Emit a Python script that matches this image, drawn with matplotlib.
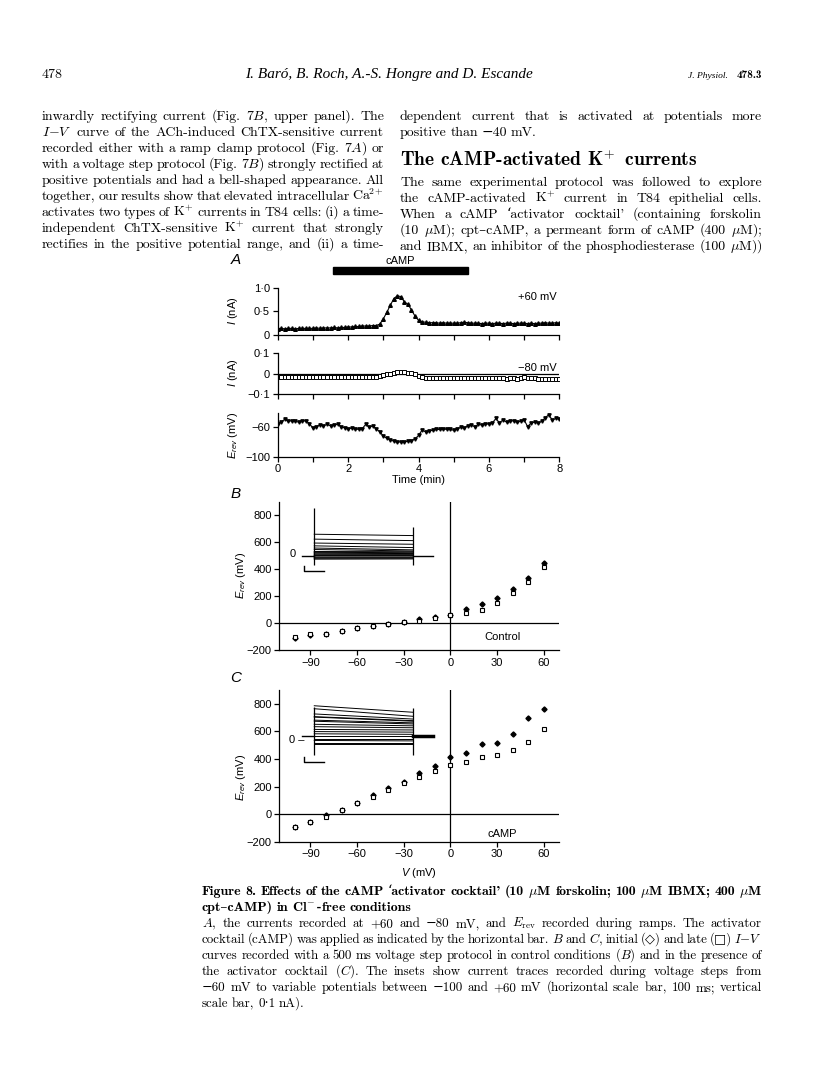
import matplotlib
matplotlib.use('Agg')
import matplotlib.pyplot as plt
import numpy as np
from matplotlib.patches import Rectangle
from matplotlib.transforms import blended_transform_factory

W, H = 816, 1088

# ---------------- data ----------------
# Panel A: sampled every 0.1 min from 0 to 8 min
time_min = np.round(np.arange(81) * 0.1, 1)
I_plus60 = [0.13, 0.14, 0.13, 0.14, 0.14, 0.13, 0.14, 0.14, 0.14, 0.14,
            0.14, 0.15, 0.14, 0.15, 0.15, 0.15, 0.16, 0.15, 0.16, 0.16,
            0.17, 0.17, 0.18, 0.18, 0.19, 0.19, 0.19, 0.20, 0.20, 0.23,
            0.34, 0.48, 0.63, 0.77, 0.83, 0.81, 0.70, 0.65, 0.53, 0.40,
            0.31, 0.28, 0.27, 0.26, 0.26, 0.26, 0.25, 0.26, 0.25, 0.25,
            0.25, 0.25, 0.26, 0.27, 0.26, 0.25, 0.25, 0.25, 0.24, 0.25,
            0.25, 0.24, 0.25, 0.25, 0.24, 0.25, 0.25, 0.24, 0.25, 0.25,
            0.25, 0.24, 0.25, 0.24, 0.25, 0.25, 0.26, 0.25, 0.25, 0.26,
            0.25]
I_minus80 = [-0.017, -0.018, -0.017, -0.016, -0.017, -0.018, -0.017, -0.017, -0.018, -0.017,
             -0.017, -0.018, -0.017, -0.017, -0.016, -0.017, -0.017, -0.018, -0.017, -0.017,
             -0.017, -0.017, -0.018, -0.017, -0.016, -0.017, -0.017, -0.016, -0.015, -0.012,
             -0.008, -0.004, 0.000, 0.004, 0.006, 0.007, 0.006, 0.004, 0.001, -0.004,
             -0.010, -0.015, -0.020, -0.023, -0.021, -0.019, -0.021, -0.020, -0.019, -0.021,
             -0.020, -0.019, -0.021, -0.020, -0.019, -0.021, -0.020, -0.022, -0.021, -0.020,
             -0.021, -0.023, -0.022, -0.021, -0.023, -0.024, -0.022, -0.023, -0.025, -0.023,
             -0.018, -0.019, -0.021, -0.023, -0.025, -0.024, -0.026, -0.025, -0.027, -0.026,
             -0.026]
E_rev = [-55, -53, -49, -52, -51, -52, -53, -52, -51, -55,
         -61, -59, -57, -58, -56, -58, -57, -56, -59, -61,
         -62, -61, -62, -63, -62, -56, -60, -58, -62, -66,
         -72, -75, -77, -79, -80, -80, -80, -79, -78, -76,
         -71, -64, -66, -65, -64, -63, -63, -62, -63, -63,
         -64, -62, -60, -61, -58, -57, -59, -56, -57, -55,
         -56, -54, -48, -54, -50, -53, -52, -51, -53, -52,
         -50, -59, -54, -53, -54, -52, -47, -43, -50, -48,
         -49]
camp_bar = [1.58, 5.41]   # min

# Panels B and C: I-V relations (values in pA, axis labelled as in original)
V_step = np.array([-100, -90, -80, -70, -60, -50, -40, -30, -20, -10, 0, 10, 20, 30, 40, 50, 60])
B_initial = np.array([-108, -87, -79, -62, -37, -25, -10, 10, 30, 45, 62, 106, 139, 188, 250, 337, 446])
B_late = np.array([-103, -85, -78, -61, -36, -24, -9, 9, 15, 35, 57, 74, 99, 149, 223, 304, 416])
C_initial = np.array([-92, -56, -10, 29, 78, 138, 187, 235, 296, 349, 417, 441, 509, 519, 579, 695, 761])
C_late = np.array([-92, -56, -20, 29, 78, 126, 175, 223, 272, 315, 356, 381, 417, 429, 465, 526, 616])

# insets: capacitive transient extents (nA) at step on / step off
B_spike_on, B_spike_off = (-0.24, 1.02), (-0.24, 0.61)
C_spike_on, C_spike_off = (-0.33, 0.74), (-0.33, 0.70)

# ---------------- figure ----------------
plt.rcParams.update({
    'mathtext.fontset': 'custom',
    'mathtext.rm': 'Liberation Sans',
    'mathtext.it': 'Liberation Sans:italic',
    'mathtext.bf': 'Liberation Sans:bold',
})
SANS = ['Liberation Sans', 'DejaVu Sans']
SERIF = ['cmr10', 'DejaVu Serif', 'DejaVu Sans']
BSERIF = ['cmb10', 'DejaVu Serif', 'DejaVu Sans']

fig = plt.figure(figsize=(W / 100, H / 100), dpi=100)
fig.patch.set_facecolor('white')
renderer = fig.canvas.get_renderer()


def axbox(l, t, r, b):
    return fig.add_axes([l / W, 1 - b / H, (r - l) / W, (b - t) / H])


def ftext(x, y, s, **kw):
    return fig.text(x / W, 1 - y / H, s, **kw)


def style(ax):
    for s in ('top', 'right'):
        ax.spines[s].set_visible(False)
    for s in ('left', 'bottom'):
        ax.spines[s].set_linewidth(0.9)
    ax.tick_params(direction='out', length=3.5, width=0.9, labelsize=8, pad=2)
    for lab in ax.get_xticklabels() + ax.get_yticklabels():
        lab.set_family(SANS)
    ax.patch.set_alpha(0)


# ---- Panel A ----
A1 = axbox(277.7, 287.7, 559.3, 335)
A2 = axbox(277.7, 353.3, 559.3, 394)
A3 = axbox(277.7, 413.3, 559.3, 456.7)
for ax in (A1, A2, A3):
    ax.set_xlim(0, 8)
    ax.set_xticks(range(9))
    ax.set_xticklabels([])
A3.set_xticklabels(['0', '', '2', '', '4', '', '6', '', '8'])

A1.plot(time_min, I_plus60, '-', color='k', lw=0.8, marker='^', ms=2.6)
A1.set_ylim(0, 1.0)
A1.set_yticks([0, 0.5, 1.0], ['0', '0·5', '1·0'])

A2.axhline(0, color='k', lw=0.9)
A2.plot(time_min, I_minus80, '-', color='k', lw=0.8, marker='s', ms=2.4, mfc='white', mew=0.7)
A2.set_ylim(-0.1, 0.1)
A2.set_yticks([-0.1, 0, 0.1], ['−0·1', '0', '0·1'])

A3.plot(time_min, E_rev, '-', color='k', lw=0.8, marker='v', ms=2.4)
A3.set_ylim(-100, -41)
A3.set_yticks([-100, -60], ['−100', '−60'])
for ax in (A1, A2, A3):
    style(ax)

A1.text(7.93, 0.81, '+60 mV', ha='right', va='center', fontsize=8, family=SANS)
A2.text(7.93, 0.028, '−80 mV', ha='right', va='center', fontsize=8, family=SANS)

tr = blended_transform_factory(A1.transData, fig.transFigure)
A1.add_patch(Rectangle((camp_bar[0], 1 - 274 / H), camp_bar[1] - camp_bar[0], 7.5 / H,
                       transform=tr, color='k', clip_on=False))
A1.text(np.mean(camp_bar), 1 - 261 / H, 'cAMP', transform=tr, ha='center', va='center',
        fontsize=8, family=SANS)

ftext(236, 260, 'A', fontsize=11, family=SANS, style='italic', ha='center', va='center')
ftext(233, 311, r'$I$ (nA)', fontsize=8, family=SANS, rotation=90, ha='center', va='center')
ftext(233, 373, r'$I$ (nA)', fontsize=8, family=SANS, rotation=90, ha='center', va='center')
ftext(233, 435, r'$E_{rev}$ (mV)', fontsize=8, family=SANS, rotation=90, ha='center', va='center')
ftext(419, 480, 'Time (min)', fontsize=8, family=SANS, ha='center', va='center')

# ---- Panels B & C ----
def iv_panel(box, initial, late, label, label_y):
    ax = axbox(*box)
    ax.axhline(0, color='k', lw=0.9)
    ax.axvline(0, color='k', lw=0.9)
    ax.plot(V_step, initial, linestyle='none', marker='D', ms=2.6, color='k')
    ax.plot(V_step, late, linestyle='none', marker='s', ms=3.4, mfc='white', mec='k', mew=0.8)
    ax.set_xlim(-110, 70)
    ax.set_ylim(-200, 900)
    ax.set_xticks([-90, -60, -30, 0, 30, 60], ['−90', '−60', '−30', '0', '30', '60'])
    ax.set_yticks([-200, 0, 200, 400, 600, 800], ['−200', '0', '200', '400', '600', '800'])
    style(ax)
    ax.text(33.5, label_y, label, ha='center', va='center', fontsize=8, family=SANS)
    return ax


Bax = iv_panel((279.3, 501.7, 559.3, 650), B_initial, B_late, 'Control', -106)
Cax = iv_panel((279.3, 690, 559.3, 841.7), C_initial, C_late, 'cAMP', -145)
ftext(236, 494, 'B', fontsize=11, family=SANS, style='italic', ha='center', va='center')
ftext(236, 678, 'C', fontsize=11, family=SANS, style='italic', ha='center', va='center')
ftext(241, 575, r'$E_{rev}$ (mV)', fontsize=8, family=SANS, rotation=90, ha='center', va='center')
ftext(241, 777, r'$E_{rev}$ (mV)', fontsize=8, family=SANS, rotation=90, ha='center', va='center')
ftext(419, 873, r'$V$ (mV)', fontsize=8, family=SANS, ha='center', va='center')


def inset(box, ylim, initial, late, spike_on, spike_off, tail_lw):
    ax = axbox(*box)
    ax.set_xlim(-72, 635)
    ax.set_ylim(*ylim)
    ax.axis('off')
    hold = late[V_step == -60][0] / 1000
    for i0, l0 in zip(initial, late):
        ax.plot([0, 500], [i0 / 1000, l0 / 1000], color='k', lw=0.7)
    ax.plot([-62, 0], [hold, hold], color='k', lw=1.0)
    ax.plot([500, 600], [hold, hold], color='k', lw=tail_lw)
    ax.vlines([0], spike_on[0], spike_on[1], color='k', lw=0.9)
    ax.vlines([500], spike_off[0], spike_off[1], color='k', lw=0.9)
    return ax


IB = inset((300, 500, 440, 578), (-0.527, 1.207), B_initial, B_late, B_spike_on, B_spike_off, 1.0)
IC = inset((300, 685, 440, 768), (-0.622, 1.222), C_initial, C_late, C_spike_on, C_spike_off, 2.5)
# scale bars: 100 ms, 0.1 nA
IB.plot([-50, -50, 50], [-0.27, -0.37, -0.37], color='k', lw=1.0)
IC.plot([-50, -50, 50], [-0.37, -0.48, -0.48], color='k', lw=1.0)
ftext(293, 554, '0', fontsize=8, family=SANS, ha='center', va='center')
ftext(297, 740, '0 –', fontsize=8, family=SANS, ha='center', va='center')

# ---------------- page text ----------------
def measure(s, size, family):
    t = fig.text(0, 0, s, fontsize=size, family=family, math_fontfamily='cm')
    w = t.get_window_extent(renderer=renderer).width
    t.remove()
    return w


def fit_size(lines, width, family, base, min_space=2.6):
    worst = 0
    for ln in lines:
        toks = ln.split(' ')
        w = sum(measure(t, base, family) for t in toks) + min_space * (len(toks) - 1)
        worst = max(worst, w / width)
    return base / worst if worst > 1 else base


def place(line, x0, x1, y, size, family, justify=True, space=3.6):
    toks = line.split(' ')
    ts = [fig.text(0, 1 - y / H, t, fontsize=size, family=family, math_fontfamily='cm',
                   ha='left', va='baseline') for t in toks]
    ws = [t.get_window_extent(renderer=renderer).width for t in ts]
    gap = (x1 - x0 - sum(ws)) / (len(ts) - 1) if (justify and len(ts) > 1) else space
    x = x0
    for t, w in zip(ts, ws):
        t.set_x(x / W)
        x += w + gap


left_lines = [
    "inwardly rectifying current (Fig. 7$B$, upper panel). The",
    "$I{-}V$ curve of the ACh-induced ChTX-sensitive current",
    "recorded either with a ramp clamp protocol (Fig. 7$A$) or",
    "with a voltage step protocol (Fig. 7$B$) strongly rectified at",
    "positive potentials and had a bell-shaped appearance. All",
    "together, our results show that elevated intracellular $\\mathrm{Ca}^{\\!2+}$",
    "activates two types of $\\mathrm{K}^{\\!+}$ currents in T84 cells: (i) a time-",
    "independent ChTX-sensitive $\\mathrm{K}^{\\!+}$ current that strongly",
    "rectifies in the positive potential range, and (ii) a time-",
]
right_lines_a = [
    "dependent current that is activated at potentials more",
    "positive than −40 mV.",
]
right_lines_b = [
    "The same experimental protocol was followed to explore",
    "the cAMP-activated $\\mathrm{K}^{\\!+}$ current in T84 epithelial cells.",
    "When a cAMP ‘activator cocktail' (containing forskolin",
    "(10 $\\mu$M); cpt–cAMP, a permeant form of cAMP (400 $\\mu$M);",
    "and IBMX, an inhibitor of the phosphodiesterase (100 $\\mu$M))",
]
heading = "The cAMP-activated $\\mathbf{K}^{\\!+}$ currents"
caption_bold = [
    "Figure 8. Effects of the cAMP ‘activator cocktail' (10 $\\mu$M forskolin; 100 $\\mu$M IBMX; 400 $\\mu$M",
    "cpt–cAMP) in $\\mathbf{Cl}^{\\!-}$-free conditions",
]
caption_lines = [
    "$A$, the currents recorded at +60 and −80 mV, and $E_{\\mathrm{rev}}$ recorded during ramps. The activator",
    "cocktail (cAMP) was applied as indicated by the horizontal bar. $B$ and $C$, initial (◇) and late (□) $I{-}V$",
    "curves recorded with a 500 ms voltage step protocol in control conditions ($B$) and in the presence of",
    "the activator cocktail ($C$). The insets show current traces recorded during voltage steps from",
    "−60 mV to variable potentials between −100 and +60 mV (horizontal scale bar, 100 ms; vertical",
    "scale bar, 0·1 nA).",
]

LX0, LX1, RX0, RX1 = 42, 384, 400, 762
BODY_BASE0 = 120
body_size = min(fit_size(left_lines, LX1 - LX0, SERIF, 10.0),
                fit_size(right_lines_a[:1] + right_lines_b, RX1 - RX0, SERIF, 10.0))
for i, ln in enumerate(left_lines):
    place(ln, LX0, LX1, BODY_BASE0 + 16 * i, body_size, SERIF, justify=True)
place(right_lines_a[0], RX0, RX1, BODY_BASE0, body_size, SERIF, justify=True)
place(right_lines_a[1], RX0, RX1, BODY_BASE0 + 16, body_size, SERIF, justify=False)
for i, ln in enumerate(right_lines_b):
    place(ln, RX0, RX1, BODY_BASE0 + 66 + 16 * i, body_size, SERIF, justify=True)

hs = 12.0 * 298 / measure(heading, 12.0, BSERIF)
fig.text(RX0 / W, 1 - (BODY_BASE0 + 46) / H, heading, fontsize=hs, family=BSERIF, math_fontfamily='cm',
         ha='left', va='baseline')

# header
HY = 78
fig.text(42 / W, 1 - HY / H, '478', fontsize=body_size, family=SERIF, ha='left', va='baseline')
authors = 'I. Baró, B. Roch, A.-S. Hongre and D. Escande'
asz = 11.0 * 288 / measure(authors, 11.0, ['Liberation Serif'])
fig.text(389 / W, 1 - HY / H, authors, fontsize=asz, family='Liberation Serif', style='italic',
         ha='center', va='baseline')
fig.text(728 / W, 1 - HY / H, 'J. Physiol.', fontsize=6.8, family='Liberation Serif',
         style='italic', ha='right', va='baseline')
fig.text(762 / W, 1 - HY / H, '478.3', fontsize=8.0, family=BSERIF, ha='right', va='baseline')

# caption
CX0, CX1 = 202, 762
cb_size = fit_size(caption_bold[:1], CX1 - CX0, BSERIF, 10.0)
place(caption_bold[0], CX0, CX1, 895, cb_size, BSERIF, justify=True)
place(caption_bold[1], CX0, CX1, 911, cb_size, BSERIF, justify=False)
c_size = fit_size(caption_lines[:-1], CX1 - CX0, SERIF, 10.0)
for i, ln in enumerate(caption_lines):
    place(ln, CX0, CX1, 927 + 16 * i, c_size, SERIF, justify=(i < len(caption_lines) - 1))

fig.savefig('out.png', dpi=100, facecolor='white')
